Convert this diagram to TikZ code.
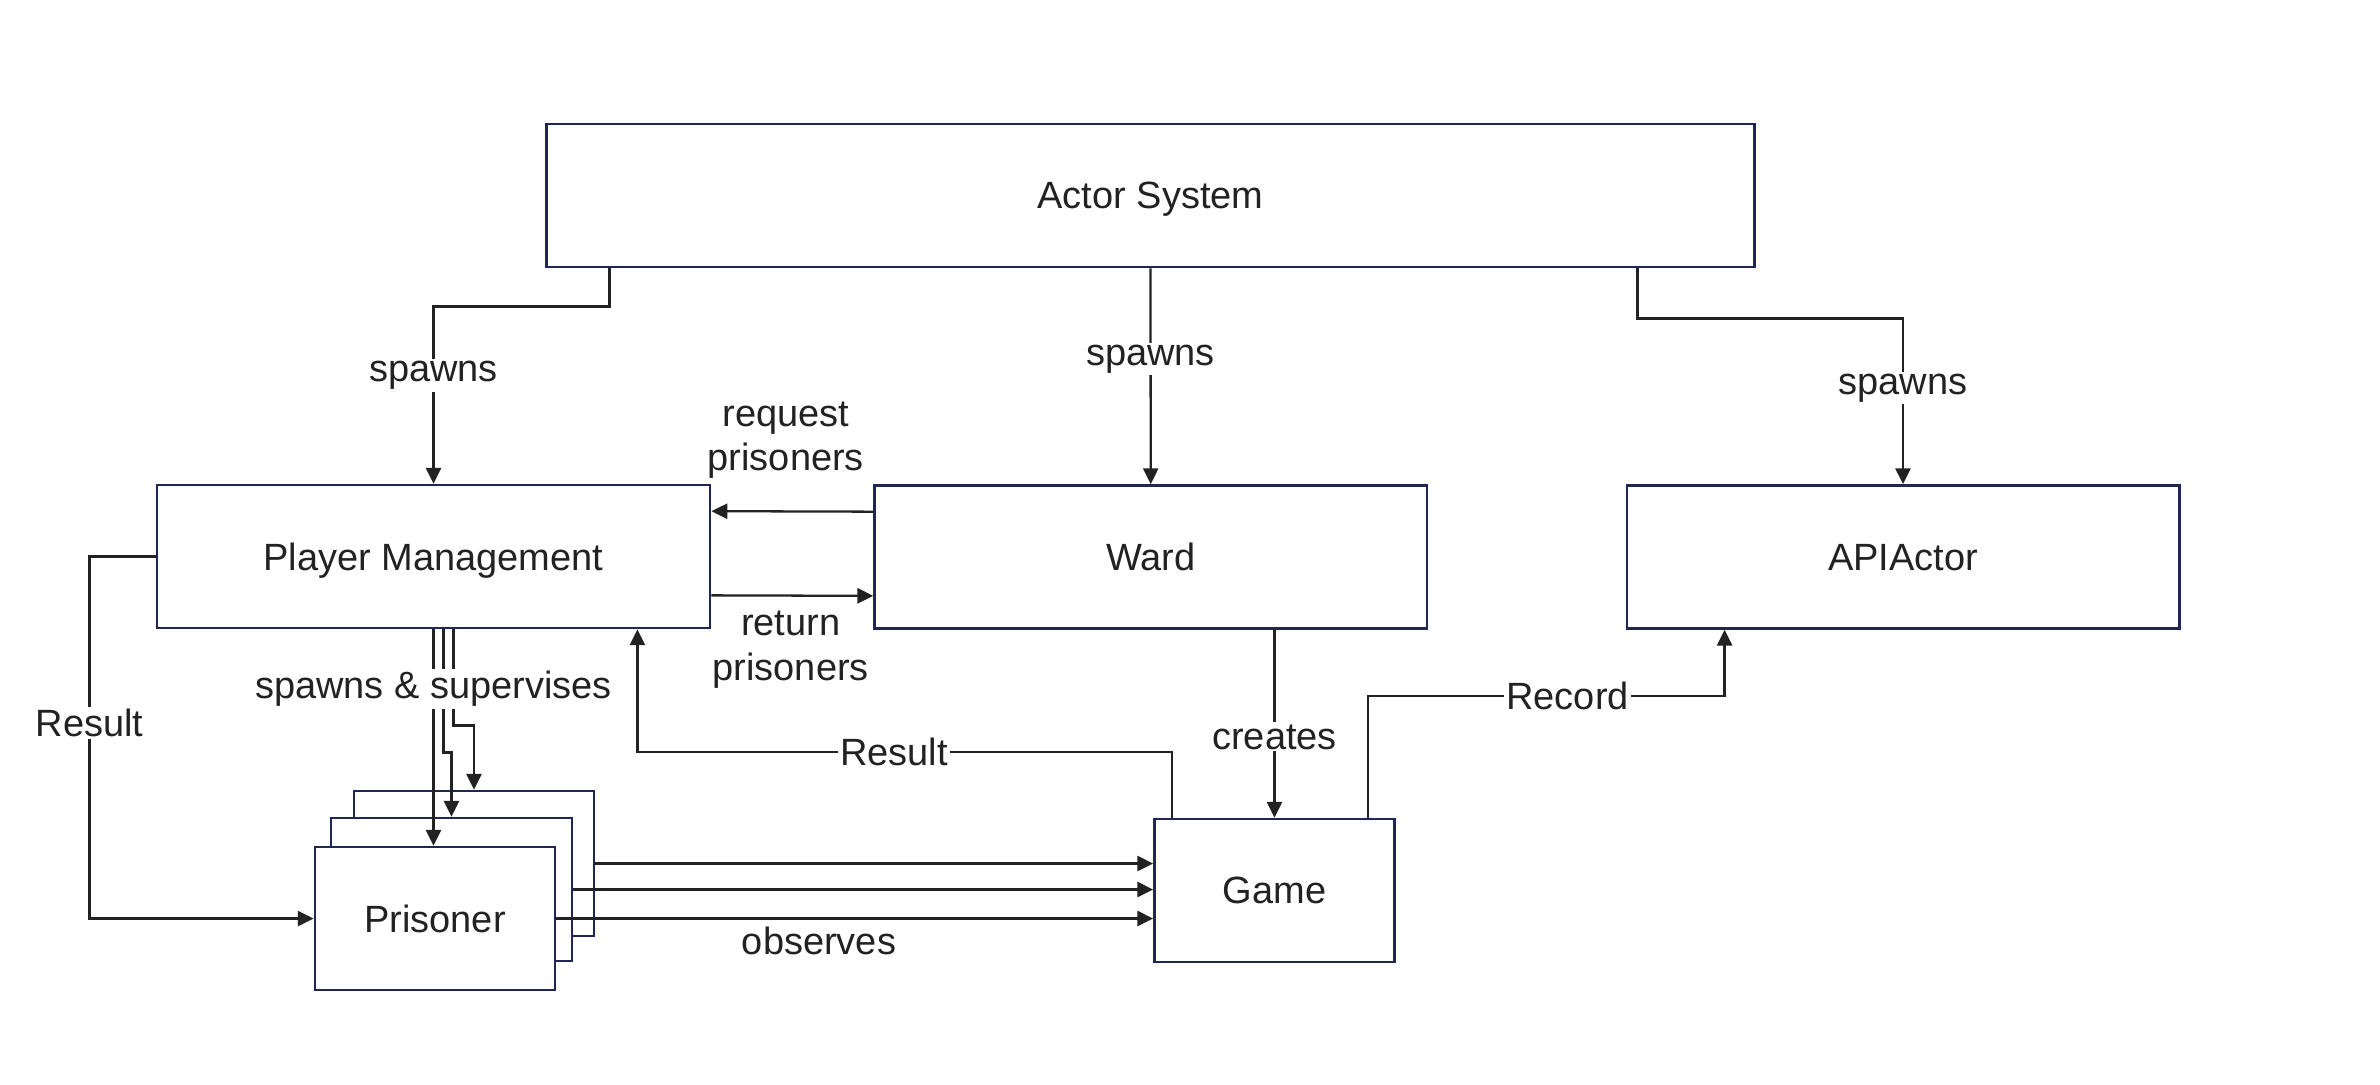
\documentclass[tikz,border=0pt]{standalone}
\usepackage{fontspec}
\setmainfont{Liberation Sans}
\usetikzlibrary{arrows.meta}
\definecolor{boxline}{RGB}{32,38,86}
\definecolor{ink}{RGB}{34,34,34}

\begin{document}
\begin{tikzpicture}[x=0.01cm, y=-0.01cm,
  every node/.style={font=\fontsize{10.8}{12.6}\selectfont, text=ink},
  box/.style={draw=boxline, line width=0.75pt, fill=white, inner sep=0pt, text depth=0pt, minimum height=1.43cm},
  arr/.style={draw=ink, line width=0.65pt, -{Triangle[length=4.5pt, width=4.3pt]}},
  lbl/.style={fill=white, inner sep=0.6pt},
  lbl2/.style={align=center, inner sep=0pt}]
  \useasboundingbox (0,0) rectangle (2380,1084);
  \node[box, minimum width=12.07cm] (actor) at (1150.5,195.5) {Actor System};
  \node[box, minimum width=5.53cm] (pm) at (433.5,556.5) {Player Management};
  \node[box, minimum width=5.52cm] (ward) at (1150.7,557) {Ward};
  \node[box, minimum width=5.52cm] (api) at (1903,557) {APIActor};
  \node[box, minimum width=2.40cm] (game) at (1274.5,890.5) {Game};
  \node[box, minimum width=2.40cm, minimum height=1.45cm] (back) at (474,863.5) {};
  \node[box, minimum width=2.41cm] (mid) at (451.5,889.5) {};
  \node[box, minimum width=2.40cm] (front) at (435,918.5) {Prisoner};
  % Draw the spawn relations
  \draw[arr] ([xshift=0.64cm]actor.south west) -- ++(0,38) -| node[lbl, pos=0.695] {spawns} (pm.north);
  \draw[arr] (actor.south) -- node[lbl, pos=0.42] {spawns} (ward.north);
  \draw[arr] ([xshift=-1.18cm]actor.south east) -- ++(0,50) -| node[lbl, pos=0.71] {spawns} (api.north);
  \draw[arr] ([yshift=-0.275cm]ward.north west) -- node[lbl2, pos=0.54, yshift=0.71cm] {request\\prisoners} ([yshift=-0.275cm]pm.north east);
  \draw[arr] ([yshift=0.34cm]pm.south east) -- node[lbl2, pos=0.49, yshift=-0.54cm] {return\\prisoners} ([yshift=0.34cm]ward.south west);
  \draw[arr] ([xshift=0.2cm]pm.south) -- ++(0,96) -| (back.north);
  \draw[arr] ([xshift=0.1cm]pm.south) -- ++(0,123) -| (mid.north);
  \draw[arr] (pm.south) -- node[lbl, pos=0.275] {spawns \& supervises} (pm.south |- front.north);
  % Draw the game relations
  \draw[arr] (back.east) -- (back.east -| game.west);
  \draw[arr] (mid.east) -- (mid.east -| game.west);
  \draw[arr] (front.east) -- node[lbl2, pos=0.44, yshift=-0.22cm] {observes} (front.east -| game.west);
  \draw[arr] (pm.west) -- ++(-66,0) |- node[lbl, pos=0.23] {Result} (front.west);
  \draw[arr] ([xshift=0.19cm]game.north west) -- ++(0,-66) -| node[lbl, pos=0.26] {Result} ([xshift=-0.74cm]pm.south east);
  \draw[arr] (ward.south -| game.north) -- node[lbl, pos=0.57] {creates} (game.north);
  \draw[arr] ([xshift=-0.28cm]game.north east) -- ++(0,-122) -| node[lbl, pos=0.28] {Record} ([xshift=0.99cm]api.south west);
\end{tikzpicture}
\end{document}
